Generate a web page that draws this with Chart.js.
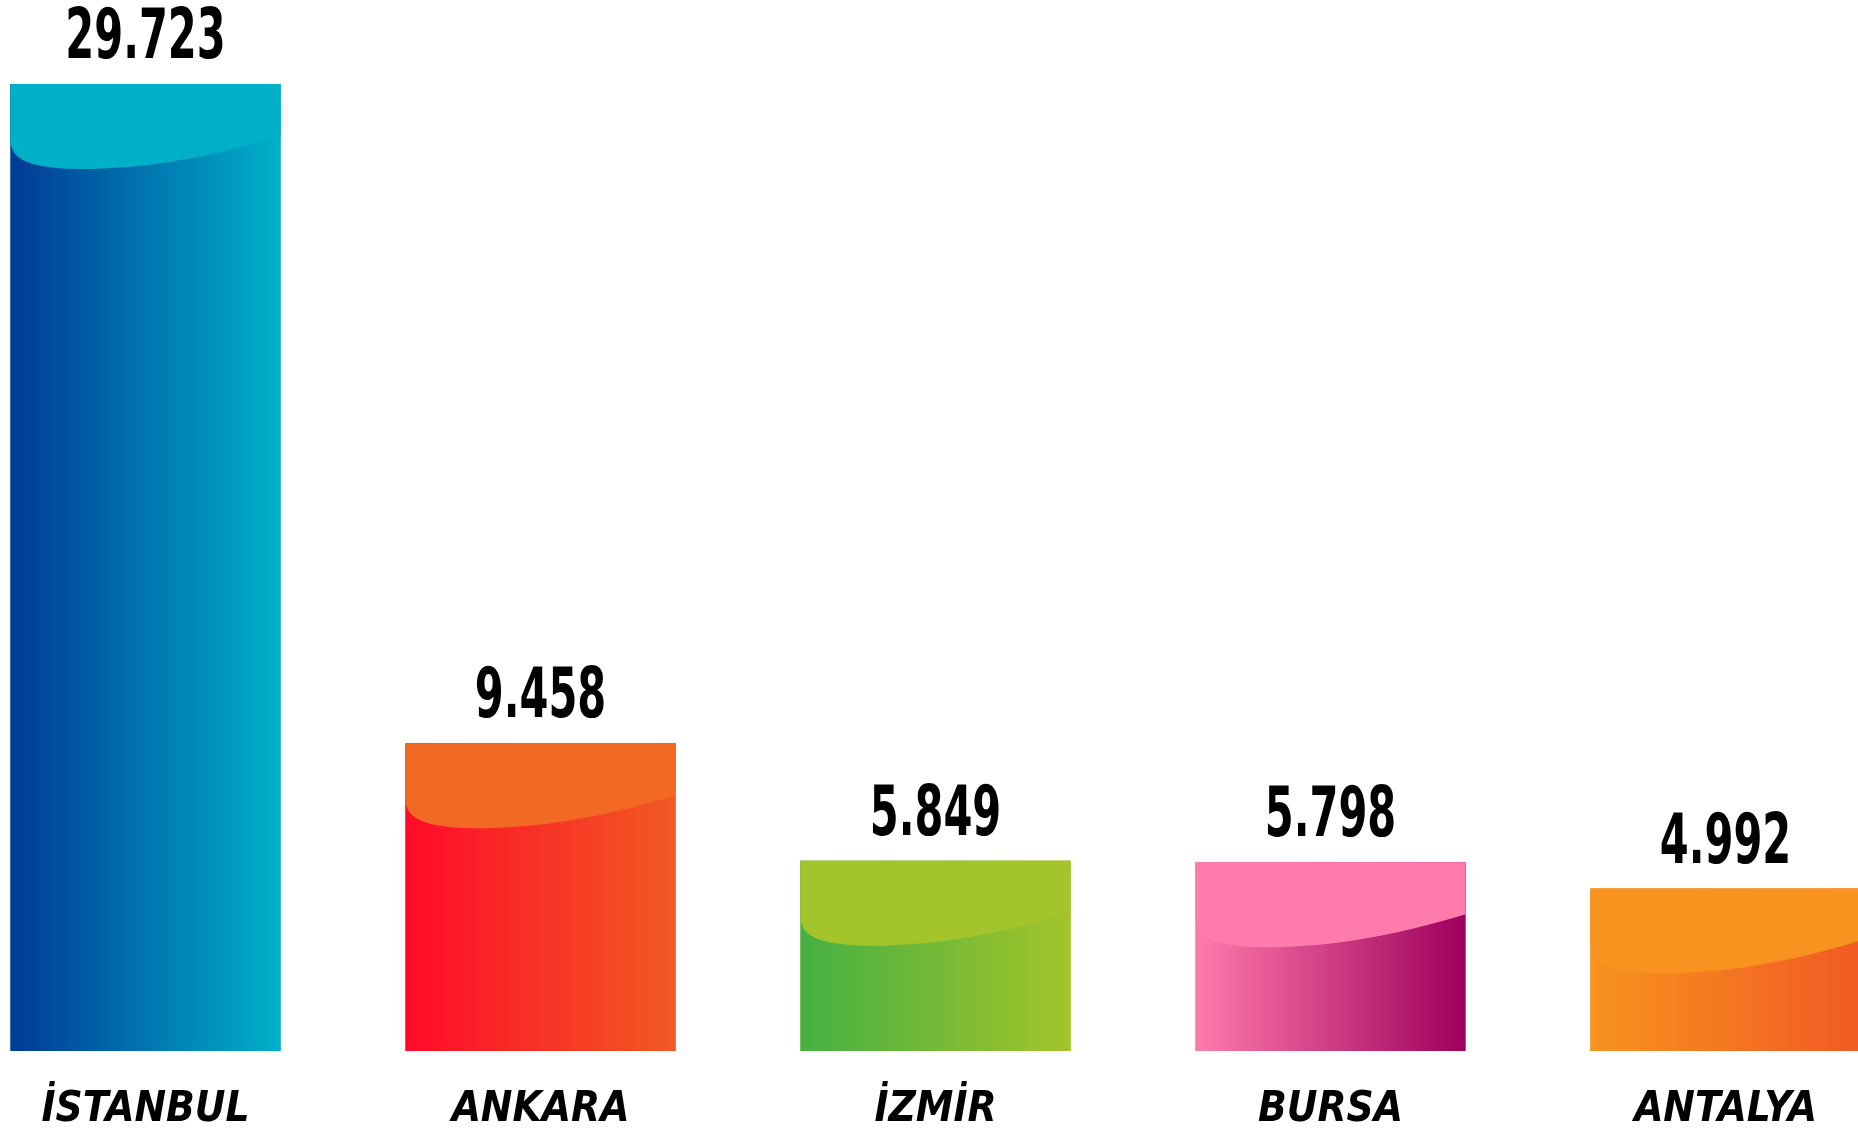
<!DOCTYPE html>
<html lang="tr">
<head>
<meta charset="utf-8">
<title>Şehirler</title>
<script src="https://cdn.jsdelivr.net/npm/chart.js@4.4.1/dist/chart.umd.min.js"></script>
<style>
    html, body { margin: 0; padding: 0; background: #fff; overflow: hidden; }
    #wrap { position: relative; width: 1858px; height: 1131px; overflow: hidden; }
    #graph-cities { position: absolute; left: -52px; top: 0; }
</style>
</head>
<body>
<div id="wrap">
    <canvas id="graph-cities" width="1975" height="1131"></canvas>
</div>
<script>
// data
const cities = ["İSTANBUL", "ANKARA", "İZMİR", "BURSA", "ANTALYA"];
const values = [29723, 9458, 5849, 5798, 4992];

// colours: flat top cap + left->right gradient underneath
const capColors = ["#00b0c9", "#f26924", "#a3c42a", "#ff7bac", "#f7931e"];
const gradStart = ["#003a96", "#ff0a28", "#45b043", "#ff7bac", "#f7931e"];
const gradEnd = ["#00b0c9", "#f15a24", "#a3c42a", "#9e005d", "#f15a24"];

function formatTr(v) {
    return String(v).replace(/\B(?=(\d{3})+(?!\d))/g, ".");
}

// paints the gradient + swoosh cap on each bar, then the value on top
const barStyle = {
    id: "barStyle",
    afterDatasetsDraw(chart) {
        const ctx = chart.ctx;
        const meta = chart.getDatasetMeta(0);
        meta.data.forEach((bar, i) => {
            const w = bar.width;
            const xl = bar.x - w / 2;
            const xr = bar.x + w / 2;
            const yt = bar.y;
            const yb = bar.base;

            ctx.save();
            const grad = ctx.createLinearGradient(xl, 0, xr, 0);
            grad.addColorStop(0, gradStart[i]);
            grad.addColorStop(1, gradEnd[i]);
            ctx.fillStyle = grad;
            ctx.fillRect(xl, yt, w, yb - yt);

            // swoosh cap
            const dL = 55, dM = 85, dR = 52;
            ctx.beginPath();
            ctx.moveTo(xl, yt);
            ctx.lineTo(xr, yt);
            ctx.lineTo(xr, yt + dR);
            ctx.bezierCurveTo(xr - 0.3 * w, yt + dR + 25, xl + 0.45 * w, yt + dM, xl + 0.27 * w, yt + dM);
            ctx.bezierCurveTo(xl + 0.05 * w, yt + dM, xl, yt + dM - 12, xl, yt + dL);
            ctx.closePath();
            ctx.fillStyle = capColors[i];
            ctx.fill();

            // value label (squeezed to look like a condensed face)
            ctx.translate(bar.x, yt - 26);
            ctx.scale(0.66, 1);
            ctx.fillStyle = "#000";
            ctx.textAlign = "center";
            ctx.textBaseline = "alphabetic";
            ctx.font = 'bold 70px "DejaVu Sans Condensed", "DejaVu Sans", sans-serif';
            ctx.fillText(formatTr(values[i]), 0, 0);
            ctx.restore();
        });
    }
};

const graph = new Chart(
    document.getElementById("graph-cities"),
    {
        type: "bar",
        data: {
            labels: cities,
            datasets: [{
                data: values,
                backgroundColor: capColors,
                borderWidth: 0,
                barPercentage: 0.684,
                categoryPercentage: 1
            }]
        },
        options: {
            responsive: false,
            animation: false,
            devicePixelRatio: 1,
            layout: { padding: { top: 84, left: 0, right: 0, bottom: 0 } },
            plugins: {
                legend: { display: false },
                tooltip: { enabled: false }
            },
            scales: {
                x: {
                    grid: { display: false, drawTicks: false },
                    border: { display: false },
                    afterFit(scale) { scale.height = 80; },
                    ticks: {
                        color: "#000",
                        padding: 34,
                        font: {
                            family: '"DejaVu Sans Condensed", "DejaVu Sans", sans-serif',
                            size: 42,
                            weight: "bold",
                            style: "italic"
                        }
                    }
                },
                y: {
                    display: false,
                    min: 0,
                    max: Math.max(...values)
                }
            }
        },
        plugins: [barStyle]
    }
);
</script>
</body>
</html>
